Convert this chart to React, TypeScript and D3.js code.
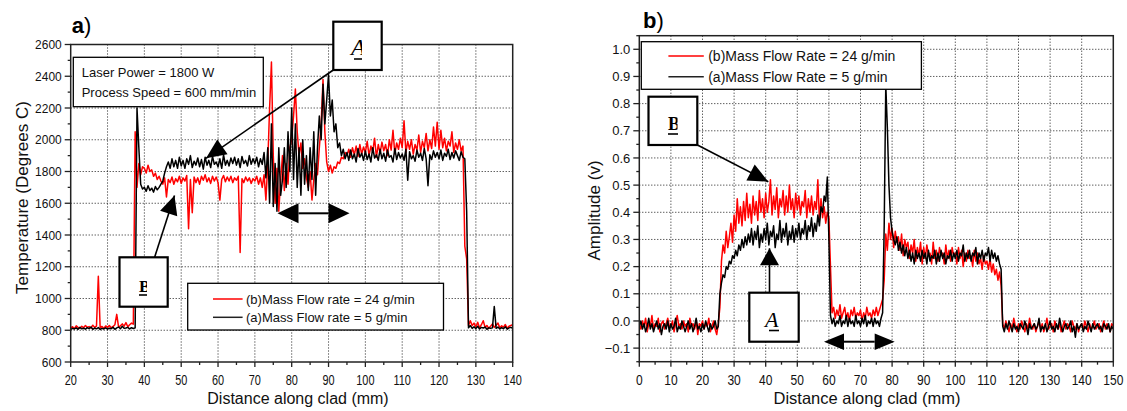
import React from 'react';
import * as d3 from 'd3';

const STEP = 0.5;
const TEMP_X0 = 20;
const AMP_X0 = 0;

// a) temperature, Degrees C, 20..140 mm
const tempRed = [
  815, 822, 810, 828, 818, 812, 825, 816, 830, 819,
  823, 814, 832, 818, 826, 1140, 815, 824, 812, 827,
  818, 830, 815, 824, 835, 900, 820, 828, 840, 826,
  848, 822, 835, 845, 838, 2050, 1700, 1850, 1780, 1830,
  1820, 1790, 1840, 1800, 1810, 1770, 1790, 1750, 1770, 1740,
  1720, 1760, 1640, 1750, 1730, 1765, 1720, 1755, 1735, 1770,
  1725, 1760, 1740, 1775, 1440, 1750, 1540, 1765, 1730, 1760,
  1720, 1770, 1745, 1780, 1735, 1760, 1725, 1770, 1740, 1765,
  1730, 1620, 1750, 1775, 1735, 1765, 1740, 1770, 1730, 1760,
  1745, 1770, 1290, 1755, 1730, 1765, 1740, 1760, 1725, 1755,
  1740, 1770, 1720, 1760, 1700, 1780, 1620, 1850, 2200, 2490,
  1900, 1600, 1820, 1550, 1750, 1900, 1680, 1850, 1720, 1950,
  2000, 2150, 2320, 2050, 1900, 1980, 1820, 1880, 1760, 1700,
  1800, 1620, 1750, 1850, 1780, 1950, 2100, 2380, 2050, 1860,
  1800, 1840, 1790, 1830, 1820, 1860, 1850, 1890, 1880, 1920,
  1900, 1940, 1890, 1950, 1905, 1960, 1895, 1970, 1910, 1955,
  1920, 1990, 1900, 1960, 1925, 2010, 1890, 1970, 1915, 1985,
  1930, 1970, 1900, 2000, 1935, 2060, 1910, 1980, 1940, 2010,
  1950, 2120, 1920, 1990, 1940, 2000, 1910, 1970, 1935, 2030,
  1920, 1990, 1950, 2040, 1930, 2000, 1945, 2080, 1960, 2110,
  1940, 2060, 1950, 2010, 1930, 1990, 1960, 2050, 1920, 1980,
  1940, 2000, 1930, 1960, 1330, 1250, 830, 860, 830, 845,
  820, 850, 815, 835, 860, 818, 830, 812, 826, 840,
  818, 832, 845, 815, 828, 820, 836, 812, 825, 830,
  835,
];

const tempBlack = [
  805, 812, 808, 815, 806, 818, 809, 813, 807, 816,
  810, 820, 806, 814, 809, 817, 805, 812, 808, 815,
  807, 813, 810, 818, 806, 815, 820, 809, 825, 812,
  814, 818, 808, 816, 811, 815, 2200, 1950, 1720, 1690,
  1700, 1675, 1710, 1680, 1695, 1670, 1705, 1685, 1700, 1720,
  1740, 1790, 1830, 1860, 1820, 1880, 1830, 1870, 1820, 1890,
  1835, 1870, 1820, 1880, 1845, 1900, 1825, 1865, 1840, 1885,
  1830, 1875, 1815, 1890, 1840, 1870, 1825, 1895, 1845, 1860,
  1830, 1880, 1820, 1905, 1840, 1870, 1835, 1885, 1850, 1890,
  1840, 1880, 1825, 1895, 1850, 1870, 1835, 1900, 1845, 1880,
  1850, 1890, 1830, 1880, 1845, 1920, 1760, 1950, 1600, 2100,
  1580, 1850, 1550, 1950, 1650, 1750, 1950, 1700, 2050, 1800,
  2200, 1750, 2100, 1700, 1950, 1650, 2000, 1720, 1900, 1680,
  1950, 1750, 2050, 1650, 1950, 2150, 2000, 2350, 2100, 2250,
  2410, 2150, 2250, 2050, 2100, 1950, 1980, 1900, 1940, 1880,
  1920, 1870, 1935, 1880, 1910, 1860, 1945, 1890, 1915, 1870,
  1930, 1875, 1910, 1860, 1950, 1885, 1905, 1870, 1940, 1880,
  1915, 1865, 1935, 1890, 1900, 1860, 1945, 1875, 1920, 1885,
  1910, 1870, 1940, 1745, 1925, 1880, 1900, 1865, 1935, 1890,
  1915, 1870, 1945, 1880, 1710, 1905, 1875, 1930, 1890, 1920,
  1880, 1935, 1870, 1915, 1895, 1940, 1875, 1920, 1885, 1930,
  1900, 1870, 1925, 1890, 1880, 1550, 815, 830, 812, 822,
  810, 825, 808, 818, 814, 820, 806, 815, 812, 815,
  950, 812, 820, 808, 816, 810, 822, 807, 815, 818,
  812,
];

// b) amplitude, volts, 0..150 mm
const ampRed = [
  -0.01, -0.03, 0.0, -0.02, 0.01, -0.04, -0.01, -0.02, 0.02, -0.03,
  -0.01, -0.02, 0.01, -0.04, -0.01, 0.0, -0.03, -0.01, 0.01, -0.02,
  -0.02, 0.0, -0.04, -0.01, 0.02, -0.02, -0.01, -0.03, 0.0, -0.02,
  -0.01, -0.04, 0.01, -0.02, -0.01, -0.03, 0.0, -0.05, -0.01, -0.02,
  0.0, -0.03, -0.01, -0.02, 0.01, -0.04, -0.02, 0.0, -0.03, -0.05,
  -0.01, 0.05, 0.22, 0.28, 0.25, 0.33, 0.27, 0.31, 0.36, 0.29,
  0.39, 0.33, 0.45, 0.36, 0.42, 0.35, 0.44, 0.37, 0.47, 0.38,
  0.43, 0.36, 0.46, 0.39, 0.44, 0.37, 0.48, 0.4, 0.45, 0.38,
  0.47, 0.4, 0.44, 0.52, 0.39, 0.46, 0.41, 0.49, 0.38, 0.45,
  0.42, 0.48, 0.39, 0.46, 0.4, 0.5, 0.41, 0.45, 0.38, 0.47,
  0.41, 0.46, 0.39, 0.44, 0.42, 0.48, 0.38, 0.45, 0.4, 0.46,
  0.39, 0.44, 0.41, 0.52, 0.37, 0.45, 0.38, 0.42, 0.36, 0.4,
  0.38, 0.2, 0.03, 0.05, 0.01, 0.04, 0.02, 0.06, 0.01, 0.03,
  0.05, 0.01, 0.03, 0.0, 0.04, 0.02, 0.05, 0.01, 0.03, 0.02,
  0.04, 0.0, 0.03, 0.01, 0.05, 0.02, 0.03, 0.01, 0.04, 0.02,
  0.05, 0.02, 0.04, 0.06, 0.08, 0.15, 0.32, 0.26, 0.36, 0.3,
  0.34, 0.27, 0.33, 0.29, 0.31, 0.26, 0.32, 0.24, 0.3, 0.27,
  0.29, 0.23, 0.28, 0.25, 0.3, 0.22, 0.27, 0.24, 0.29, 0.21,
  0.27, 0.23, 0.28, 0.24, 0.25, 0.21, 0.29, 0.23, 0.26, 0.22,
  0.27, 0.24, 0.25, 0.21, 0.28, 0.23, 0.26, 0.22, 0.27, 0.24,
  0.25, 0.21, 0.27, 0.23, 0.26, 0.2, 0.25, 0.22, 0.26, 0.23,
  0.24, 0.2, 0.26, 0.22, 0.25, 0.21, 0.23, 0.19, 0.24, 0.21,
  0.22, 0.19, 0.23, 0.18, 0.21, 0.17, 0.19, 0.15, 0.18, 0.13,
  -0.01, -0.03, 0.0, -0.02, -0.04, -0.01, -0.03, 0.01, -0.02, -0.04,
  -0.01, -0.03, 0.0, -0.02, -0.04, -0.01, -0.03, 0.01, -0.02, -0.03,
  -0.01, -0.04, -0.02, 0.0, -0.03, -0.01, -0.04, -0.02, 0.01, -0.03,
  -0.02, -0.01, -0.04, 0.0, -0.02, -0.03, -0.01, -0.04, -0.02, 0.0,
  -0.03, -0.01, -0.02, -0.04, 0.0, -0.02, -0.03, -0.01, -0.04, -0.02,
  -0.01, -0.03, 0.0, -0.02, -0.04, -0.01, -0.03, -0.02, 0.0, -0.03,
  -0.02, -0.01, -0.04, -0.02, 0.0, -0.03, -0.01, -0.02, -0.04, -0.01,
  -0.02,
];

const ampBlack = [
  -0.02, 0.0, -0.03, -0.01, -0.04, -0.02, 0.01, -0.03, -0.01, -0.04,
  -0.02, 0.0, -0.03, -0.01, -0.05, -0.02, -0.01, -0.03, 0.0, -0.04,
  -0.01, -0.03, -0.02, 0.01, -0.04, -0.02, -0.03, 0.0, -0.02, -0.04,
  -0.02, 0.0, -0.03, -0.01, -0.04, -0.02, 0.01, -0.03, -0.02, -0.04,
  -0.01, -0.03, 0.0, -0.02, -0.04, -0.01, -0.03, -0.02, 0.0, -0.03,
  -0.02, 0.1, 0.14, 0.17, 0.16, 0.2, 0.19, 0.22, 0.21, 0.24,
  0.23, 0.26, 0.24, 0.28, 0.26, 0.3, 0.27, 0.31, 0.28, 0.32,
  0.29, 0.34, 0.28, 0.33, 0.3, 0.35, 0.27, 0.32, 0.29, 0.34,
  0.3, 0.36, 0.28, 0.33, 0.31, 0.35, 0.27, 0.32, 0.3, 0.37,
  0.29, 0.34, 0.31, 0.36, 0.28, 0.33, 0.3, 0.35, 0.29, 0.34,
  0.31, 0.36, 0.3, 0.34, 0.32, 0.37, 0.3, 0.35, 0.33, 0.38,
  0.31, 0.36, 0.33, 0.39, 0.35, 0.42, 0.4, 0.46, 0.44, 0.53,
  0.3, 0.02, -0.01, 0.01, -0.02, 0.0, -0.01, 0.02, -0.02, 0.0,
  -0.01, 0.02, -0.02, 0.01, -0.01, 0.0, -0.02, 0.02, -0.01, 0.0,
  -0.02, 0.01, -0.01, 0.02, -0.02, 0.0, -0.01, 0.01, -0.02, 0.01,
  -0.01, 0.0, -0.02, 0.01, 0.03, 0.35, 0.87, 0.71, 0.5, 0.38,
  0.33, 0.3, 0.28, 0.31, 0.26, 0.29, 0.25, 0.28, 0.24, 0.27,
  0.23, 0.26, 0.22, 0.25, 0.21, 0.26, 0.23, 0.25, 0.22, 0.26,
  0.23, 0.25, 0.21, 0.26, 0.22, 0.24, 0.23, 0.26, 0.21, 0.25,
  0.22, 0.26, 0.23, 0.25, 0.21, 0.24, 0.23, 0.26, 0.22, 0.25,
  0.23, 0.26, 0.22, 0.25, 0.24, 0.28, 0.22, 0.25, 0.23, 0.26,
  0.22, 0.25, 0.24, 0.27, 0.21, 0.25, 0.23, 0.26, 0.22, 0.25,
  0.24, 0.27, 0.22, 0.26, 0.23, 0.25, 0.22, 0.24, 0.21, 0.19,
  -0.02, -0.04, -0.01, -0.03, 0.0, -0.02, -0.04, -0.01, -0.03, -0.02,
  -0.04, -0.01, -0.02, -0.03, 0.0, -0.02, -0.05, -0.01, -0.03, -0.02,
  -0.01, -0.03, -0.02, 0.01, -0.04, -0.02, -0.03, -0.01, -0.04, -0.02,
  0.0, -0.03, -0.02, -0.04, -0.01, -0.03, 0.01, -0.02, -0.04, -0.02,
  -0.01, -0.03, -0.02, 0.0, -0.04, -0.02, -0.06, -0.01, -0.03, -0.02,
  -0.01, -0.04, -0.02, -0.03, 0.0, -0.02, -0.04, -0.01, -0.03, -0.02,
  -0.01, -0.03, -0.02, -0.04, -0.01, -0.02, -0.03, -0.01, -0.04, -0.02,
  -0.03,
];

// tick labels
const tempXTicks = [20, 30, 40, 50, 60, 70, 80, 90, 100, 110, 120, 130, 140];
const tempYTicks = [600, 800, 1000, 1200, 1400, 1600, 1800, 2000, 2200, 2400, 2600];
const ampXTicks = [0, 10, 20, 30, 40, 50, 60, 70, 80, 90, 100, 110, 120, 130, 140, 150];
const ampYTicks = [-0.1, 0, 0.1, 0.2, 0.3, 0.4, 0.5, 0.6, 0.7, 0.8, 0.9, 1.0];

const legendA = ['(b)Mass Flow rate = 24 g/min', '(a)Mass Flow rate = 5 g/min'];
const legendB = ['(b)Mass Flow Rate = 24 g/min', '(a)Mass Flow Rate = 5 g/min'];

const FONT = "'Liberation Sans', Arial, Helvetica, sans-serif";
const SERIF = "'Liberation Serif', 'Times New Roman', serif";

const toPoints = (vals: number[], x0: number) => vals.map((v, i) => [x0 + i * STEP, v] as [number, number]);

function Txt({ x, y, size, sx = 1, rotate = 0, anchor = 'start', weight = 'normal', children }: any) {
  return (
    <text
      transform={`translate(${x},${y}) rotate(${rotate}) scale(${sx},1)`}
      fontSize={size}
      fontFamily={FONT}
      fontWeight={weight}
      textAnchor={anchor}
      fill="#111"
    >
      {children}
    </text>
  );
}

function arrowHead(tip: number[], from: number[], len: number, half: number) {
  const dx = from[0] - tip[0];
  const dy = from[1] - tip[1];
  const d = Math.hypot(dx, dy);
  const ux = dx / d, uy = dy / d;
  const bx = tip[0] + ux * len, by = tip[1] + uy * len;
  return `${tip[0]},${tip[1]} ${bx - uy * half},${by + ux * half} ${bx + uy * half},${by - ux * half}`;
}

function Arrow({ from, tip, len = 20, half = 9, w = 1.6 }: any) {
  return (
    <g>
      <line x1={from[0]} y1={from[1]} x2={tip[0]} y2={tip[1]} stroke="#000" strokeWidth={w} />
      <polygon points={arrowHead(tip, from, len, half)} fill="#000" />
    </g>
  );
}

function DoubleArrow({ x1, x2, y, len = 20, half = 9 }: any) {
  return (
    <g>
      <line x1={x1 + len} y1={y} x2={x2 - len} y2={y} stroke="#000" strokeWidth={2} />
      <polygon points={arrowHead([x1, y], [x2, y], len, half)} fill="#000" />
      <polygon points={arrowHead([x2, y], [x1, y], len, half)} fill="#000" />
    </g>
  );
}

function LetterBox({ id, x, y, w, h, letter, tx, ty, size, italic, bold, clipW, ux1, ux2, uy }: any) {
  return (
    <g>
      <rect x={x} y={y} width={w} height={h} fill="#fff" stroke="#000" strokeWidth={2.2} />
      <clipPath id={id}>
        <rect x={tx - 2} y={y} width={clipW} height={h} />
      </clipPath>
      <text
        x={tx}
        y={ty}
        fontFamily={SERIF}
        fontSize={size}
        fontStyle={italic ? 'italic' : 'normal'}
        fontWeight={bold ? 'bold' : 'normal'}
        clipPath={`url(#${id})`}
        fill="#000"
      >
        {letter}
      </text>
      <line x1={ux1} x2={ux2} y1={uy} y2={uy} stroke="#000" strokeWidth={1.6} />
    </g>
  );
}

function Panel({ id, x, y, xTicks, yTicks, xMinor, yMinor, fmtY, xTickFont, yTickFont, red, black }: any) {
  const [l, r] = x.range();
  const [b, t] = y.range();
  const line = d3.line<[number, number]>().x(d => x(d[0])).y(d => y(d[1]));
  return (
    <g>
      <clipPath id={id}>
        <rect x={l} y={t} width={r - l} height={b - t} />
      </clipPath>
      {/* dotted grid */}
      <g stroke="#000" strokeWidth={0.9} strokeDasharray="1,2">
        {xTicks.filter((v: number) => x(v) > l + 1 && x(v) < r - 1).map((v: number) => (
          <line key={'gx' + v} x1={x(v)} x2={x(v)} y1={t} y2={b} />
        ))}
        {yTicks.filter((v: number) => y(v) < b - 1 && y(v) > t + 1).map((v: number) => (
          <line key={'gy' + v} x1={l} x2={r} y1={y(v)} y2={y(v)} />
        ))}
      </g>
      <g clipPath={`url(#${id})`} fill="none" strokeLinejoin="round">
        <path d={line(red) ?? ''} stroke="#ff0000" strokeWidth={1.5} />
        <path d={line(black) ?? ''} stroke="#000" strokeWidth={1.5} />
      </g>
      {/* frame and ticks */}
      <rect x={l} y={t} width={r - l} height={b - t} fill="none" stroke="#222" strokeWidth={1.5} />
      <g stroke="#222" strokeWidth={1.3}>
        {xTicks.map((v: number) => <line key={'tx' + v} x1={x(v)} x2={x(v)} y1={b} y2={b + 5} />)}
        {xMinor.map((v: number) => <line key={'mx' + v} x1={x(v)} x2={x(v)} y1={b} y2={b + 3} />)}
        {yTicks.map((v: number) => <line key={'ty' + v} x1={l - 6} x2={l} y1={y(v)} y2={y(v)} />)}
        {yMinor.map((v: number) => <line key={'my' + v} x1={l - 3} x2={l} y1={y(v)} y2={y(v)} />)}
      </g>
      {xTicks.map((v: number) => (
        <Txt key={'lx' + v} x={x(v)} y={385} size={xTickFont.size} sx={xTickFont.sx} anchor="middle">{v}</Txt>
      ))}
      {yTicks.map((v: number) => (
        <Txt key={'ly' + v} x={l - 9} y={y(v) + 4.6} size={yTickFont.size} sx={yTickFont.sx} anchor="end">{fmtY(v)}</Txt>
      ))}
    </g>
  );
}

export default function App() {
  const xA = d3.scaleLinear().domain([20, 140]).range([70.7, 512.7]);
  const yA = d3.scaleLinear().domain([600, 2600]).range([362, 44.5]);
  const xB = d3.scaleLinear().domain([0, 150]).range([639.3, 1113.3]);
  const yB = d3.scaleLinear().domain([-0.15, 1.05]).range([361.7, 35.7]);

  const minorA_x = d3.range(25, 140, 10);
  const minorA_y = d3.range(700, 2600, 200);
  const minorB_x = d3.range(5, 150, 10);
  const minorB_y = d3.range(-15, 106, 10).map(v => v / 100);

  return (
    <svg
      width={1127}
      height={411}
      style={{ position: 'absolute', left: 0, top: 0, background: '#fff' }}
    >
      <rect width={1127} height={411} fill="#fff" />

      {/* ---- panel a ---- */}
      <Panel
        id="clipA"
        x={xA}
        y={yA}
        xTicks={tempXTicks}
        yTicks={tempYTicks}
        xMinor={minorA_x}
        yMinor={minorA_y}
        fmtY={(v: number) => String(v)}
        xTickFont={{ size: 14, sx: 0.78 }}
        yTickFont={{ size: 13, sx: 0.92 }}
        red={toPoints(tempRed, TEMP_X0)}
        black={toPoints(tempBlack, TEMP_X0)}
      />
      <text x={71.7} y={33.3} fontFamily={FONT} fontSize={22} fill="#000">
        <tspan fontWeight="bold">a</tspan>)
      </text>
      <Txt x={28} y={197.5} size={17} rotate={-90} anchor="middle">Temperature (Degrees C)</Txt>
      <Txt x={298} y={404} size={16} anchor="middle">Distance along clad (mm)</Txt>

      <rect x={73.3} y={57.3} width={190} height={49.4} fill="#fff" stroke="#000" strokeWidth={1.3} />
      <Txt x={81.7} y={76.5} size={13}>Laser Power = 1800 W</Txt>
      <Txt x={81.7} y={96.5} size={13}>Process Speed = 600 mm/min</Txt>

      <Arrow from={[333.3, 70]} tip={[206, 158.3]} len={20} half={9} />
      <LetterBox id="boxA1" x={333.3} y={21.7} w={48.4} h={48.3} letter="A" tx={351} ty={55} size={24} italic clipW={13} ux1={354} ux2={362} uy={59} />
      <Arrow from={[154.6, 257.3]} tip={[174.5, 195.5]} len={19} half={9} />
      <LetterBox id="boxB1" x={119.5} y={257.3} w={48.2} h={49.4} letter="B" tx={139} ty={291.5} size={17} bold clipW={10} ux1={139} ux2={147} uy={295} />
      <DoubleArrow x1={277.5} x2={349.5} y={213.3} len={21} half={10} />

      <rect x={187.7} y={283.3} width={255.8} height={46.7} fill="#fff" stroke="#000" strokeWidth={1.3} />
      <line x1={213} x2={242.6} y1={299} y2={299} stroke="#ff0000" strokeWidth={1.5} />
      <Txt x={246} y={303.6} size={13}>{legendA[0]}</Txt>
      <line x1={213} x2={242.6} y1={317.3} y2={317.3} stroke="#222" strokeWidth={1.5} />
      <Txt x={246} y={321.9} size={13}>{legendA[1]}</Txt>

      {/* ---- panel b ---- */}
      <Panel
        id="clipB"
        x={xB}
        y={yB}
        xTicks={ampXTicks}
        yTicks={ampYTicks}
        xMinor={minorB_x}
        yMinor={minorB_y}
        fmtY={d3.format('.1f')}
        xTickFont={{ size: 14.5, sx: 0.83 }}
        yTickFont={{ size: 13, sx: 1 }}
        red={toPoints(ampRed, AMP_X0)}
        black={toPoints(ampBlack, AMP_X0)}
      />
      <text x={643} y={28.3} fontFamily={FONT} fontSize={22} fill="#000">
        <tspan fontWeight="bold">b</tspan>)
      </text>
      <Txt x={600} y={210.5} size={17} rotate={-90} anchor="middle">Amplitude (v)</Txt>
      <Txt x={867} y={403.5} size={16.5} anchor="middle">Distance along clad (mm)</Txt>

      <rect x={641.3} y={41.7} width={280.1} height={47.6} fill="#fff" stroke="#000" strokeWidth={1.3} />
      <line x1={668.4} x2={703.8} y1={56} y2={56} stroke="#ff0000" strokeWidth={1.5} />
      <Txt x={708.2} y={61} size={14}>{legendB[0]}</Txt>
      <line x1={668.4} x2={703.8} y1={76.7} y2={76.7} stroke="#222" strokeWidth={1.5} />
      <Txt x={708.2} y={81.7} size={14}>{legendB[1]}</Txt>

      <Arrow from={[695.5, 144]} tip={[768.3, 181.7]} len={20} half={9} />
      <LetterBox id="boxB2" x={648.5} y={96.7} w={48.8} h={48.3} letter="B" tx={668} ty={130} size={18} bold clipW={11.5} ux1={668} ux2={678} uy={134} />
      <Arrow from={[769.5, 292.7]} tip={[769.5, 248.3]} len={17} half={9.5} />
      <LetterBox id="boxA2" x={749.3} y={292.7} w={49.4} h={49} letter="A" tx={765} ty={327} size={22} italic clipW={16} ux1={769} ux2={779} uy={330.5} />
      <DoubleArrow x1={824} x2={894.7} y={341.7} len={20} half={8.3} />
    </svg>
  );
}
